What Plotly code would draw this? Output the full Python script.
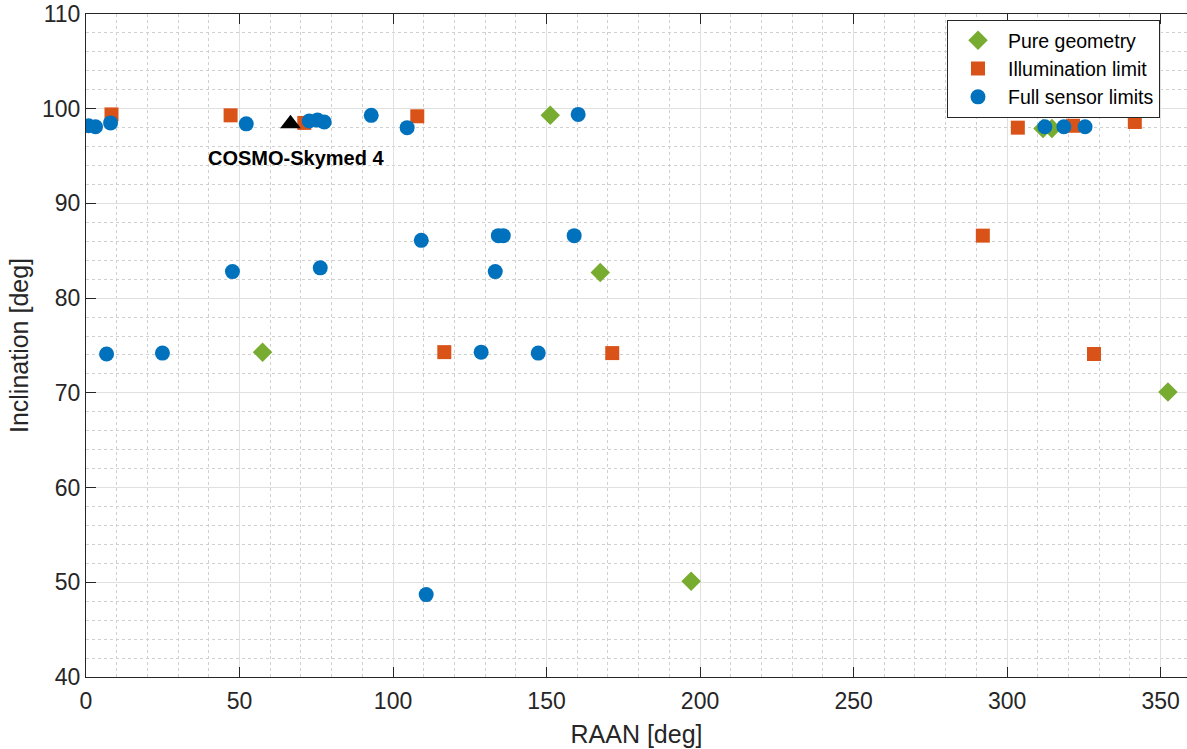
import plotly.graph_objects as go

# Data (RAAN [deg], Inclination [deg])
geo_raan = [57.5, 151.2, 167.5, 197.1, 311.7, 314.6, 352.4]
geo_inc = [74.3, 99.3, 82.7, 50.1, 97.9, 97.9, 70.1]

ill_raan = [8.3, 47.1, 71.1, 107.9, 116.7, 171.4, 292.1, 303.5, 321.5, 328.3, 341.6]
ill_inc = [99.4, 99.3, 98.5, 99.2, 74.3, 74.2, 86.6, 98.0, 98.2, 74.1, 98.6]

full_raan = [0.8, 3.1, 8.0, 6.7, 24.9, 47.7, 52.2, 72.7, 75.4, 77.6, 76.3, 92.9, 104.6,
             109.2, 110.8, 128.7, 133.3, 134.3, 135.9, 147.3, 159.0, 160.3, 312.3, 318.5, 325.4]
full_inc = [98.2, 98.1, 98.5, 74.1, 74.2, 82.8, 98.4, 98.7, 98.8, 98.6, 83.2, 99.3, 98.0,
            86.1, 48.7, 74.3, 82.8, 86.6, 86.6, 74.2, 86.6, 99.4, 98.1, 98.1, 98.1]

target_name = "COSMO-Skymed 4"
target_raan = [66.6]
target_inc = [98.4]

FONT = "Liberation Sans, Arial, Helvetica, sans-serif"
TXT = "#262626"

fig = go.Figure()
fig.add_trace(go.Scatter(x=geo_raan, y=geo_inc, mode="markers", name="Pure geometry",
                         marker=dict(symbol="diamond", color="#77AC30", size=15,
                                     line=dict(width=0))))
fig.add_trace(go.Scatter(x=ill_raan, y=ill_inc, mode="markers", name="Illumination limit",
                         marker=dict(symbol="square", color="#D95319", size=14,
                                     line=dict(width=0))))
fig.add_trace(go.Scatter(x=full_raan, y=full_inc, mode="markers", name="Full sensor limits",
                         marker=dict(symbol="circle", color="#0072BD", size=15,
                                     line=dict(width=0))))
fig.add_trace(go.Scatter(x=target_raan, y=target_inc, mode="markers", showlegend=False,
                         marker=dict(symbol="triangle-up", color="black", size=18,
                                     line=dict(width=0))))
fig.add_annotation(x=target_raan[0], y=target_inc[0], text="<b>" + target_name + "</b>",
                   showarrow=False, xanchor="center", yanchor="middle",
                   xshift=6, yshift=-34, font=dict(family=FONT, size=20, color="black"))

axis_common = dict(
    showline=True, linecolor=TXT, linewidth=1,
    ticks="inside", ticklen=10, tickcolor=TXT, tickwidth=1,
    showgrid=True, gridcolor="#e0e0e0", gridwidth=1,
    zeroline=False,
    tickfont=dict(family=FONT, size=23, color=TXT),
)

fig.update_xaxes(range=[0, 358.6], dtick=50, tick0=0, mirror="ticks",
                 title=dict(text="RAAN [deg]", font=dict(family=FONT, size=25, color=TXT), standoff=12),
                 ticklabelstandoff=3,
                 minor=dict(dtick=10, showgrid=True, gridcolor="#d0d0d0", griddash="dot", gridwidth=1,
                            ticks=""),
                 **axis_common)
fig.update_yaxes(range=[40, 110], dtick=10, tick0=40,
                 title=dict(text="Inclination [deg]", font=dict(family=FONT, size=25, color=TXT), standoff=6),
                 minor=dict(dtick=2, showgrid=True, gridcolor="#d0d0d0", griddash="dot", gridwidth=1,
                            ticks=""),
                 **axis_common)

fig.update_layout(
    width=1187, height=749,
    margin=dict(l=86, r=0, t=14, b=72),
    plot_bgcolor="white", paper_bgcolor="white",
    font=dict(family=FONT, color=TXT),
    legend=dict(x=0.782, y=0.991, xanchor="left", yanchor="top",
                bgcolor="white", bordercolor=TXT, borderwidth=1,
                font=dict(family=FONT, size=19.5, color="black"),
                itemwidth=50, tracegroupgap=0),
)

fig.write_html("out.html")
